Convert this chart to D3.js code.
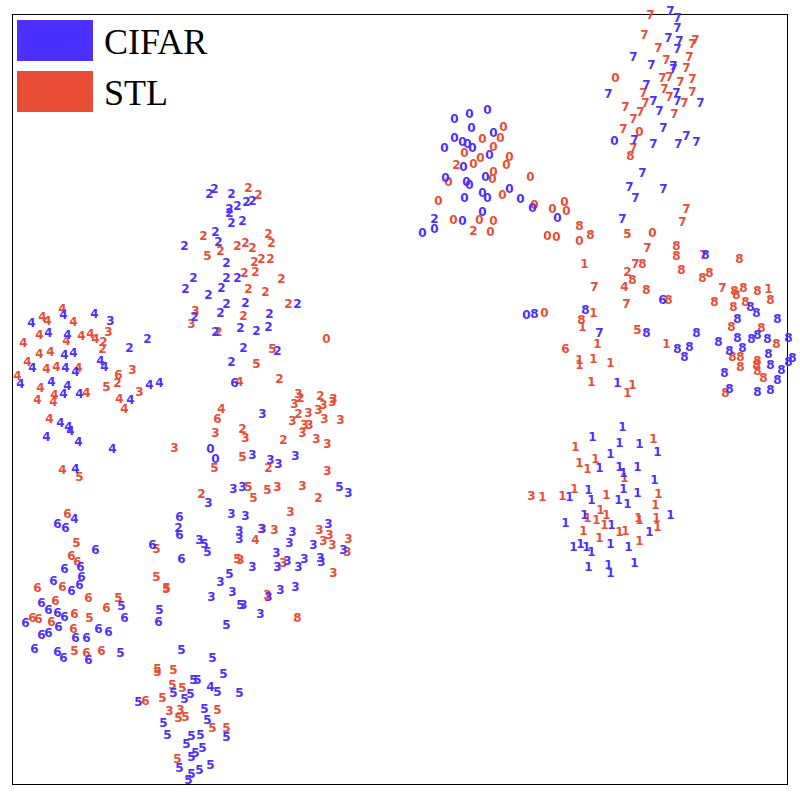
<!DOCTYPE html>
<html>
<head>
<meta charset="utf-8">
<script src="https://cdn.jsdelivr.net/npm/d3@7"></script>
<style>
html,body{margin:0;padding:0;background:#fff;}
svg{display:block;}
</style>
</head>
<body>
<svg id="chart" width="800" height="800"></svg>
<script>
// Domains shown in the legend
const domains = ["CIFAR", "STL"];
const domainColors = ["#4B30FF", "#E84E35"];

// t-SNE embedding coordinates: [x, y, class label]
const cifarPoints = [
  // class 4 region
  [63,314,"4"],[31,322,"4"],[94,313,"4"],[110,320,"3"],[48,332,"4"],[67,334,"4"],[147,338,"2"],[129,347,"2"],
  [64,354,"4"],[73,352,"4"],[32,367,"4"],[65,367,"4"],[75,371,"4"],[100,360,"4"],[104,366,"4"],[20,383,"4"],
  [51,381,"4"],[67,385,"4"],[63,393,"4"],[79,393,"4"],[149,384,"4"],[159,382,"4"],[130,399,"4"],[60,422,"4"],
  [68,426,"4"],[70,430,"4"],[46,436,"4"],[78,441,"4"],[112,448,"4"],[75,468,"4"],
  // class 2 region
  [214,188,"2"],[209,193,"2"],[231,193,"2"],[246,201,"2"],[252,200,"2"],[237,205,"2"],[229,208,"2"],[229,212,"2"],
  [231,222,"2"],[242,220,"2"],[215,231,"2"],[218,241,"2"],[184,245,"2"],[226,262,"2"],[193,277,"2"],[226,277,"2"],
  [237,277,"2"],[185,288,"2"],[221,287,"2"],[208,294,"2"],[226,303,"2"],[245,302,"2"],[297,303,"2"],[194,316,"2"],
  [220,312,"2"],[269,313,"2"],[215,331,"2"],[240,327,"2"],[256,330,"2"],[268,326,"2"],[243,347,"2"],[277,350,"2"],
  [231,361,"2"],[234,382,"6"],
  // class 3 / 5 region
  [262,413,"3"],[210,448,"0"],[215,458,"0"],[252,454,"3"],[270,459,"3"],[278,463,"3"],[295,455,"3"],[233,488,"3"],
  [242,486,"3"],[208,502,"3"],[339,486,"5"],[348,492,"3"],[231,513,"3"],[245,515,"3"],[179,516,"6"],[178,527,"2"],
  [179,534,"6"],[239,530,"3"],[239,538,"3"],[262,528,"3"],[292,531,"3"],[289,542,"3"],[199,539,"3"],[204,543,"5"],
  [207,551,"5"],[181,558,"6"],[328,523,"3"],[313,544,"3"],[343,549,"3"],[276,552,"3"],[252,566,"3"],[277,566,"3"],
  [287,560,"3"],[298,566,"3"],[304,558,"3"],[320,557,"3"],[321,561,"3"],[229,573,"5"],[220,581,"3"],[211,596,"3"],
  [232,591,"3"],[268,596,"3"],[280,589,"3"],[295,586,"3"],[240,604,"5"],[243,604,"3"],[260,613,"3"],[226,624,"5"],
  [159,609,"5"],[158,621,"6"],
  // class 6 region
  [74,518,"4"],[57,523,"6"],[65,527,"6"],[95,549,"6"],[152,544,"6"],[80,566,"6"],[64,568,"6"],[81,576,"6"],
  [53,580,"6"],[71,590,"6"],[79,584,"6"],[121,605,"5"],[41,602,"6"],[48,609,"6"],[57,612,"6"],[64,616,"6"],
  [124,617,"6"],[25,622,"6"],[58,626,"6"],[41,634,"6"],[48,632,"6"],[75,637,"6"],[86,637,"6"],[98,628,"6"],
  [108,631,"6"],[34,648,"6"],[57,651,"6"],[63,657,"6"],[88,659,"6"],[120,652,"5"],
  // class 5 region
  [181,649,"5"],[212,657,"5"],[193,679,"5"],[197,679,"5"],[223,673,"5"],[173,692,"5"],[184,698,"5"],[190,693,"5"],
  [210,686,"4"],[217,691,"5"],[239,692,"5"],[138,701,"5"],[204,708,"5"],[163,722,"5"],[207,719,"5"],[226,736,"5"],
  [167,734,"5"],[191,735,"5"],[200,734,"5"],[186,743,"5"],[202,747,"5"],[195,752,"5"],[191,756,"5"],[179,767,"5"],
  [191,773,"5"],[199,769,"5"],[210,764,"5"],[188,779,"5"],
  // class 0 region
  [454,118,"0"],[469,113,"0"],[487,109,"0"],[471,127,"0"],[493,132,"0"],[454,137,"0"],[462,141,"0"],[467,143,"0"],
  [472,147,"0"],[444,147,"0"],[489,154,"0"],[463,166,"0"],[485,176,"0"],[445,177,"0"],[466,181,"0"],[469,184,"0"],
  [509,188,"0"],[482,192,"0"],[487,197,"0"],[464,197,"0"],[520,198,"0"],[532,207,"0"],[557,217,"0"],[482,211,"0"],
  [434,218,"2"],[462,220,"0"],[422,232,"0"],[434,228,"0"],[526,314,"0"],[534,313,"8"],
  // class 7 region
  [670,10,"7"],[677,17,"7"],[677,27,"7"],[668,37,"7"],[679,40,"7"],[677,48,"7"],[633,56,"7"],[651,64,"7"],
  [673,65,"7"],[673,68,"7"],[646,84,"7"],[608,93,"7"],[676,92,"7"],[677,100,"7"],[653,100,"7"],[700,102,"7"],
  [659,110,"7"],[663,127,"7"],[614,140,"0"],[634,139,"7"],[653,143,"7"],[678,143,"7"],[686,135,"7"],[696,141,"7"],
  [642,172,"7"],[629,186,"7"],[635,197,"7"],[663,188,"7"],[622,218,"7"],
  // middle right
  [705,254,"8"],[662,299,"6"],[585,309,"8"],[599,332,"7"],[646,332,"8"],[696,332,"8"],[677,348,"8"],[689,346,"8"],
  [684,356,"8"],[617,382,"1"],
  // class 8 region
  [750,306,"8"],[756,312,"8"],[737,318,"8"],[777,318,"8"],[737,337,"8"],[751,338,"8"],[757,334,"8"],[767,338,"8"],
  [788,337,"8"],[718,341,"8"],[729,350,"8"],[742,347,"8"],[768,353,"8"],[770,364,"8"],[788,361,"8"],[792,357,"8"],
  [781,369,"8"],[724,372,"8"],[777,379,"8"],[729,388,"8"],[757,391,"8"],[770,389,"8"],
  // class 1 region
  [622,426,"1"],[592,436,"1"],[619,442,"1"],[639,443,"1"],[610,453,"1"],[657,451,"1"],[599,467,"1"],[619,466,"1"],
  [623,472,"1"],[637,466,"1"],[654,479,"1"],[569,496,"1"],[588,489,"1"],[591,499,"1"],[623,488,"1"],[618,499,"1"],
  [637,492,"1"],[627,503,"1"],[584,514,"1"],[670,514,"1"],[565,522,"1"],[611,524,"1"],[649,531,"1"],[573,546,"1"],
  [580,543,"1"],[586,546,"1"],[591,551,"1"],[610,543,"1"],[628,546,"1"],[634,562,"1"],[588,566,"1"],[608,564,"1"],
  [610,572,"1"]
];

const stlPoints = [
  // class 4 region
  [62,308,"4"],[42,316,"4"],[47,320,"4"],[73,321,"4"],[39,334,"4"],[66,340,"4"],[81,335,"4"],[90,333,"4"],
  [95,338,"4"],[108,331,"3"],[103,341,"2"],[102,348,"2"],[23,342,"4"],[39,353,"4"],[50,351,"4"],[27,361,"4"],
  [46,368,"4"],[56,366,"4"],[78,367,"4"],[132,369,"3"],[17,375,"4"],[40,387,"4"],[54,394,"4"],[86,392,"4"],
  [106,386,"5"],[118,374,"6"],[117,382,"2"],[139,391,"3"],[37,399,"4"],[53,401,"4"],[119,398,"4"],[124,408,"4"],
  [49,418,"4"],[174,447,"3"],[62,469,"4"],[79,476,"5"],
  // class 2 region
  [248,187,"2"],[258,194,"2"],[203,235,"2"],[268,233,"2"],[271,242,"2"],[220,250,"2"],[237,245,"2"],[245,242,"2"],
  [252,247,"2"],[207,255,"5"],[254,261,"2"],[261,258,"2"],[270,258,"2"],[244,272,"2"],[255,271,"2"],[281,278,"2"],
  [248,288,"2"],[265,291,"2"],[288,303,"2"],[195,310,"3"],[191,323,"3"],[243,315,"2"],[218,331,"2"],[326,338,"0"],
  [272,348,"5"],[256,363,"5"],[239,381,"4"],[279,378,"2"],
  // class 3 / 5 region
  [298,393,"3"],[300,397,"2"],[294,403,"3"],[320,395,"2"],[323,404,"3"],[333,398,"3"],[332,401,"3"],[221,408,"4"],
  [217,418,"6"],[298,413,"2"],[308,412,"3"],[318,409,"3"],[292,420,"3"],[304,424,"3"],[309,424,"3"],[324,418,"3"],
  [340,419,"3"],[215,432,"3"],[242,428,"2"],[245,437,"3"],[302,432,"3"],[283,439,"2"],[316,438,"3"],[327,443,"3"],
  [214,467,"5"],[242,456,"5"],[268,467,"2"],[327,470,"3"],[248,486,"5"],[253,497,"5"],[267,489,"5"],[277,486,"3"],
  [302,485,"3"],[201,493,"2"],[318,497,"2"],[290,511,"3"],[261,528,"3"],[274,529,"3"],[255,539,"4"],[319,529,"3"],
  [329,534,"3"],[323,540,"3"],[332,544,"3"],[348,538,"3"],[347,551,"3"],[237,558,"5"],[240,559,"3"],[283,562,"3"],
  [333,572,"3"],[166,587,"5"],[267,594,"3"],[297,617,"8"],
  // class 6 region
  [67,513,"6"],[76,542,"5"],[156,548,"5"],[71,555,"6"],[77,561,"6"],[62,586,"6"],[37,587,"6"],[156,576,"5"],
  [166,588,"5"],[88,597,"6"],[118,597,"5"],[55,600,"6"],[74,613,"6"],[106,607,"6"],[89,617,"5"],[32,617,"6"],
  [38,618,"6"],[51,621,"6"],[73,628,"6"],[74,650,"5"],[86,652,"6"],[101,650,"6"],[157,668,"5"],
  // class 5 region
  [157,671,"5"],[173,669,"5"],[172,684,"5"],[182,687,"5"],[162,697,"5"],[145,700,"6"],[169,710,"3"],[180,709,"3"],
  [178,717,"5"],[185,716,"5"],[217,709,"5"],[212,727,"5"],[226,727,"5"],[177,758,"5"],
  // class 0 region
  [503,126,"0"],[500,137,"0"],[482,138,"0"],[493,146,"0"],[464,152,"0"],[480,157,"0"],[473,163,"0"],[456,164,"2"],
  [509,156,"0"],[506,164,"0"],[493,171,"0"],[492,178,"0"],[448,181,"0"],[530,176,"0"],[502,194,"0"],[438,200,"0"],
  [534,204,"0"],[552,208,"0"],[564,201,"0"],[566,210,"0"],[453,219,"0"],[479,219,"0"],[493,220,"0"],[473,230,"2"],
  [490,231,"0"],[547,235,"0"],[556,236,"0"],[579,240,"0"],[579,225,"8"],[590,234,"8"],[544,312,"0"],
  // class 7 region
  [650,14,"7"],[644,34,"7"],[695,39,"7"],[692,43,"7"],[658,47,"7"],[689,56,"7"],[666,59,"7"],[686,67,"7"],
  [615,77,"0"],[662,77,"7"],[669,76,"7"],[680,81,"7"],[692,78,"7"],[643,92,"7"],[664,88,"7"],[669,96,"7"],
  [684,102,"7"],[692,91,"7"],[645,102,"7"],[625,106,"7"],[640,111,"7"],[674,113,"7"],[633,118,"7"],[623,128,"7"],
  [639,131,"0"],[633,147,"7"],[630,155,"8"],[686,208,"7"],[682,221,"7"],
  // middle right
  [627,233,"5"],[652,232,"0"],[647,247,"7"],[676,245,"8"],[676,255,"8"],[703,254,"7"],[584,263,"1"],[635,263,"7"],
  [642,263,"8"],[627,271,"2"],[632,279,"8"],[681,269,"8"],[702,277,"8"],[709,272,"8"],[594,286,"7"],[624,286,"4"],
  [646,289,"8"],[668,299,"8"],[626,303,"7"],[593,312,"1"],[581,319,"8"],[582,326,"1"],[637,329,"5"],[565,348,"6"],
  [597,343,"1"],[666,343,"1"],[579,359,"1"],[579,364,"1"],[593,358,"1"],[610,362,"1"],[591,381,"1"],[632,384,"1"],
  [627,392,"1"],
  // class 8 region
  [739,258,"8"],[722,287,"7"],[734,290,"8"],[736,294,"8"],[743,287,"8"],[757,290,"8"],[768,288,"1"],[770,299,"8"],
  [714,301,"8"],[733,306,"8"],[745,301,"8"],[731,326,"8"],[761,327,"8"],[776,343,"8"],[732,356,"8"],[740,356,"8"],
  [740,366,"8"],[757,360,"8"],[756,364,"8"],[757,370,"8"],[763,377,"8"],[725,392,"8"],
  // class 1 region
  [653,438,"1"],[575,446,"1"],[595,458,"1"],[579,462,"1"],[587,468,"1"],[624,477,"1"],[531,495,"3"],[542,496,"1"],
  [562,495,"1"],[574,488,"1"],[606,494,"1"],[658,493,"1"],[655,504,"1"],[600,509,"1"],[606,514,"1"],[587,517,"1"],
  [596,519,"1"],[638,517,"1"],[639,519,"1"],[656,517,"1"],[657,526,"1"],[604,524,"1"],[619,531,"1"],[625,530,"1"],
  [583,530,"1"],[599,537,"1"],[639,540,"1"]
];

// embedding extent (frame of the plot)
const xExtent = [12, 787];
const yExtent = [14, 784];

const svg = d3.select("#chart");
const frame = {left: 12.5, top: 14.5, right: 787.5, bottom: 784.5};

const x = d3.scaleLinear().domain(xExtent).range([frame.left, frame.right]);
const y = d3.scaleLinear().domain(yExtent).range([frame.top, frame.bottom]);
const color = d3.scaleOrdinal().domain(domains).range(domainColors);

svg.append("rect")
  .attr("x", frame.left).attr("y", frame.top)
  .attr("width", frame.right - frame.left)
  .attr("height", frame.bottom - frame.top)
  .attr("fill", "none").attr("stroke", "#000").attr("stroke-width", 1);

const all = stlPoints.map(d => ({x: d[0], y: d[1], label: d[2], domain: "STL"}))
  .concat(cifarPoints.map(d => ({x: d[0], y: d[1], label: d[2], domain: "CIFAR"})));

svg.append("g")
  .selectAll("text")
  .data(all)
  .join("text")
  .attr("x", d => x(d.x))
  .attr("y", d => y(d.y))
  .attr("text-anchor", "middle")
  .attr("dominant-baseline", "central")
  .attr("font-family", "DejaVu Sans, sans-serif")
  .attr("font-weight", "bold")
  .attr("font-size", 12)
  .attr("fill", d => color(d.domain))
  .text(d => d.label);

// legend
const legend = svg.append("g").attr("transform", "translate(17,20)");
domains.forEach((dname, i) => {
  const g = legend.append("g").attr("transform", `translate(0,${i * 51})`);
  g.append("rect").attr("width", 76).attr("height", 41).attr("fill", color(dname));
  g.append("text")
    .attr("x", 87).attr("y", 34)
    .attr("font-family", "Liberation Serif, Times New Roman, serif")
    .attr("font-size", 36)
    .attr("fill", "#000")
    .text(dname);
});
</script>
</body>
</html>
